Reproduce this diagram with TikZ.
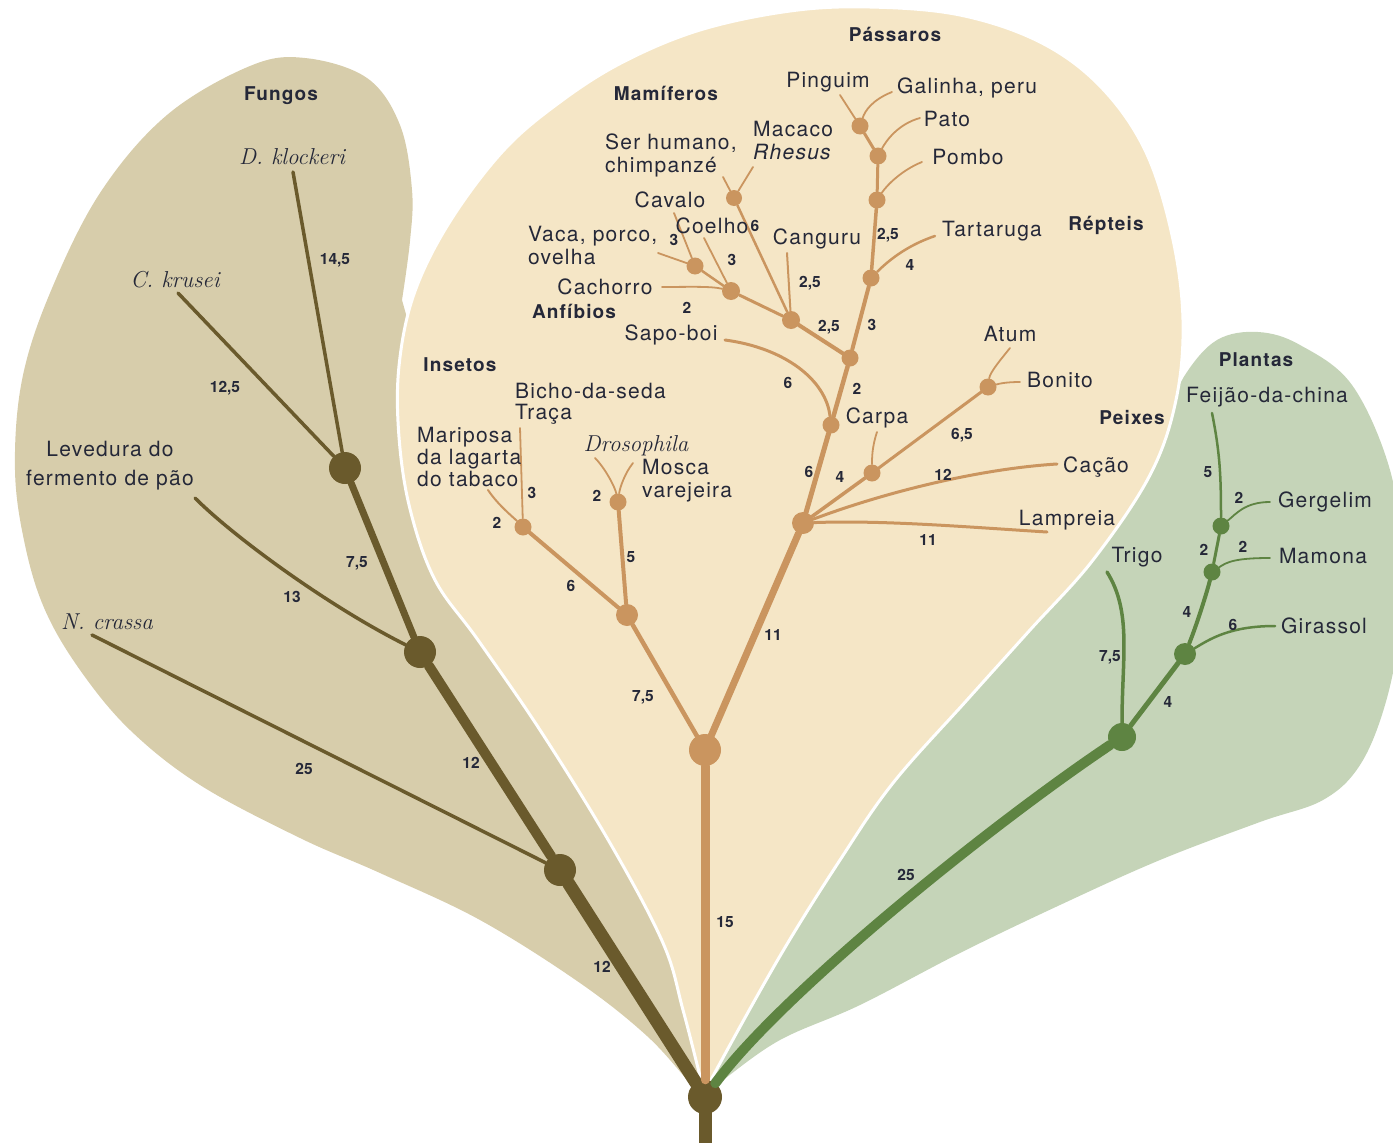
\documentclass[tikz,border=0pt]{standalone}
\usepackage{fontspec}
\newfontfamily\labfont[LetterSpace=6]{TeX Gyre Heros}
\newfontfamily\catfont[LetterSpace=6]{TeX Gyre Heros}
\newfontfamily\numfont{TeX Gyre Heros}
\definecolor{fungbg}{HTML}{D7CDAB}
\definecolor{fungbr}{HTML}{6A5A2C}
\definecolor{animbg}{HTML}{F5E6C6}
\definecolor{animbr}{HTML}{CA955F}
\definecolor{plantbg}{HTML}{C5D4B8}
\definecolor{plantbr}{HTML}{5E8442}
\definecolor{txt}{HTML}{252838}
\tikzset{
  lab/.style={font=\labfont\fontsize{21}{23}\selectfont, text=txt, inner sep=0pt},
  cat/.style={font=\catfont\bfseries\fontsize{19}{21}\selectfont, text=txt, inner sep=0pt},
  num/.style={font=\numfont\bfseries\fontsize{15.5}{17}\selectfont, text=txt, inner sep=0pt},
  spc/.style={font=\rmfamily\itshape\fontsize{23}{25}\selectfont, text=txt, inner sep=0pt},
  fdot/.style={circle, fill=fungbr, inner sep=0pt, minimum size=#1},
  adot/.style={circle, fill=animbr, inner sep=0pt, minimum size=#1},
  pdot/.style={circle, fill=plantbr, inner sep=0pt, minimum size=#1},
  fb/.style={draw=fungbr, line cap=round, line width=#1},
  ab/.style={draw=animbr, line cap=round, line width=#1},
  pb/.style={draw=plantbr, line cap=round, line width=#1},
}
\begin{document}
\begin{tikzpicture}[x=1pt,y=-1pt]
\useasboundingbox (0,0) rectangle (1393,1143);
% ---------- background blobs ----------
\fill[fungbg] (705,1097) -- plot[smooth, tension=0.6] coordinates {(705,1097) (690,1083) (647,1036) (580,983) (480,920) (380,873) (300,838) (200,785) (130,730) (80,670) (45,610) (25,545) (15,470) (22,380) (50,293) (100,193) (167,115) (250,66) (305,58) (367,78) (400,125) (412,190) (410,241) (402,300)} -- (430,400) -- (490,560) -- (610,760) -- (695,960) -- (716,1050) -- cycle;
\fill[plantbg] (712,1088) -- plot[smooth, tension=0.6] coordinates {(712,1088) (723,1080) (780,1040) (860,1005) (960,953) (1060,905) (1160,860) (1260,822) (1323,800) (1360,765) (1385,705) (1400,630) (1402,560) (1390,470) (1352,385) (1300,345) (1258,332) (1217,340) (1185,375) (1165,420)} -- (1130,480) -- (1075,560) -- (960,690) -- (880,790) -- (825,870) -- (745,990) -- (714,1065) -- cycle;
\filldraw[fill=animbg, draw=white, line width=3pt] (705,1094) -- plot[smooth, tension=0.6] coordinates {(705,1094) (700,1076) (683,1010) (663,943) (610,843) (540,730) (478,640) (435,580) (410,509) (399,437) (399,366) (414,294) (449,223) (503,151) (560,102) (623,62) (700,30) (790,11) (870,7) (960,15) (1040,42) (1100,86) (1145,150) (1172,235) (1183,320) (1176,400) (1150,475) (1093,560) (1030,630) (967,700) (893,783) (840,860) (780,956) (713,1076) (705,1094)} -- cycle;
% ---------- nodes (dots) ----------
\node[fdot=34pt] (root) at (705,1097) {};
\node[fdot=32pt] (f1) at (560,870) {};
\node[fdot=32pt] (f2) at (420,652) {};
\node[fdot=32pt] (f3) at (345,468) {};
\node[adot=32pt] (A) at (705,750) {};
\node[adot=22pt] (I) at (627,615) {};
\node[adot=17pt] (M) at (523,527) {};
\node[adot=17pt] (D) at (618,502) {};
\node[adot=22pt] (F) at (803,523) {};
\node[adot=17pt] (C2) at (872,473) {};
\node[adot=17pt] (B) at (988,387) {};
\node[adot=17pt] (CN) at (831,425) {};
\node[adot=17pt] (S) at (850,358) {};
\node[adot=18pt] (Mm) at (791,320) {};
\node[adot=18pt] (Ca) at (731,291) {};
\node[adot=17pt] (V) at (695,266) {};
\node[adot=16pt] (H) at (734,198) {};
\node[adot=17pt] (R) at (871,278) {};
\node[adot=17pt] (P1) at (877,200) {};
\node[adot=17pt] (P2) at (878,156) {};
\node[adot=17pt] (P3) at (860,126) {};
\node[pdot=28pt] (T) at (1122,737) {};
\node[pdot=22pt] (G1) at (1185,654) {};
\node[pdot=17pt] (G2) at (1212,572) {};
\node[pdot=17pt] (G3) at (1221,526) {};
% leaf ends
\coordinate (base) at (705,1150);
\coordinate (dkE) at (293,172);
\coordinate (ckE) at (178,293);
\coordinate (levE) at (195,498);
\coordinate (ncE) at (92,635);
\coordinate (pinE) at (840,95);
\coordinate (galE) at (892,92);
\coordinate (patE) at (920,118);
\coordinate (pomE) at (922,162);
\coordinate (tarE) at (935,236);
\coordinate (canE) at (787,253);
\coordinate (hsE) at (723,177);
\coordinate (rhE) at (753,167);
\coordinate (cavE) at (674,213);
\coordinate (vacE) at (658,253);
\coordinate (coeE) at (704,238);
\coordinate (cacE) at (662,287);
\coordinate (sapE) at (725,340);
\coordinate (atE) at (1010,348);
\coordinate (boE) at (1020,382);
\coordinate (carE) at (877,432);
\coordinate (caE) at (1057,464);
\coordinate (laE) at (1047,532);
\coordinate (marE) at (488,490);
\coordinate (traE) at (520,428);
\coordinate (droE) at (595,458);
\coordinate (mosE) at (633,463);
\coordinate (feE) at (1212,413);
\coordinate (geE) at (1270,502);
\coordinate (maE) at (1270,558);
\coordinate (giE) at (1275,626);
\coordinate (trE) at (1107,572);
% ---------- fungi branches ----------
\draw[fb=13pt, line cap=butt] (root.center) -- (base);
\draw[fb=13pt] (root) -- (f1);
\draw[fb=10pt] (f1) -- (f2);
\draw[fb=7pt] (f2) -- (f3);
\draw[fb=3.5pt] (dkE) -- (f3);
\draw[fb=3.5pt] (ckE) -- (f3);
\draw[fb=3.5pt] (levE) .. controls +(40,40) and +(-90,-45) .. (f2);
\draw[fb=3.5pt] (ncE) -- (f1);
% ---------- animal branches ----------
\draw[ab=9pt] (root) -- (A);
\draw[ab=7pt] (A) -- (F);
\draw[ab=4.5pt] (A) -- (I);
\draw[ab=4pt] (I) -- (M);
\draw[ab=4pt] (I) -- (D);
\draw[ab=2pt] (marE) .. controls +(10,15) and +(-10,-10) .. (M);
\draw[ab=1.8pt] (traE) -- (M);
\draw[ab=1.8pt] (droE) .. controls +(10,10) and +(-3,-15) .. (D);
\draw[ab=1.8pt] (mosE) .. controls +(-8,10) and +(2,-15) .. (D);
\draw[ab=5pt] (F) -- (CN);
\draw[ab=4.5pt] (CN) -- (S);
\draw[ab=3pt] (sapE) .. controls +(60,8) and +(-5,-45) .. (CN);
\draw[ab=4pt] (S) -- (R);
\draw[ab=3.5pt] (R) -- (P1);
\draw[ab=3pt] (P1) -- (P2);
\draw[ab=3pt] (P2) -- (P3);
\draw[ab=1.8pt] (pinE) -- (P3);
\draw[ab=1.8pt] (galE) .. controls +(-20,8) and +(5,-15) .. (P3);
\draw[ab=1.8pt] (patE) .. controls +(-22,6) and +(8,-15) .. (P2);
\draw[ab=1.8pt] (pomE) .. controls +(-20,8) and +(10,-15) .. (P1);
\draw[ab=2.5pt] (tarE) .. controls +(-30,10) and +(15,-15) .. (R);
\draw[ab=4pt] (S) -- (Mm);
\draw[ab=2pt] (canE) -- (Mm);
\draw[ab=2.5pt] (H) -- (Mm);
\draw[ab=1.8pt] (hsE) -- (H);
\draw[ab=1.8pt] (rhE) -- (H);
\draw[ab=3pt] (Ca) -- (Mm);
\draw[ab=2.5pt] (V) -- (Ca);
\draw[ab=1.8pt] (cavE) -- (V);
\draw[ab=1.8pt] (vacE) -- (V);
\draw[ab=1.8pt] (coeE) -- (Ca);
\draw[ab=1.8pt] (cacE) .. controls +(25,0) and +(-20,-5) .. (Ca);
\draw[ab=3.5pt] (F) -- (C2);
\draw[ab=1.8pt] (carE) .. controls +(-5,15) and +(0,-15) .. (C2);
\draw[ab=3pt] (C2) -- (B);
\draw[ab=1.8pt] (atE) .. controls +(-8,10) and +(2,-15) .. (B);
\draw[ab=1.8pt] (boE) .. controls +(-15,0) and +(10,-3) .. (B);
\draw[ab=3pt] (F) .. controls +(80,-30) and +(-80,5) .. (caE);
\draw[ab=3pt] (F) .. controls +(80,-3) and +(-80,-5) .. (laE);
% ---------- plant branches ----------
\draw[pb=10pt] (root) .. controls +(80,-107) and +(-127,85) .. (T);
\draw[pb=3.5pt] (trE) .. controls +(25,40) and +(0,-80) .. (T);
\draw[pb=5pt] (T) -- (G1);
\draw[pb=2.5pt] (giE) .. controls +(-45,0) and +(25,-15) .. (G1);
\draw[pb=4pt] (G1) .. controls +(12,-30) and +(-5,20) .. (G2);
\draw[pb=1.8pt] (maE) .. controls +(-35,0) and +(15,-10) .. (G2);
\draw[pb=3pt] (G2) -- (G3);
\draw[pb=1.8pt] (geE) .. controls +(-25,0) and +(15,-12) .. (G3);
\draw[pb=2.5pt] (feE) .. controls +(8,40) and +(0,-50) .. (G3);
% ---------- fungi labels ----------
\node[cat] (tFungos) at (281,96) {Fungos};
\node[spc] (tDk) at (292,157) {D. klockeri};
\node[num] (n145) at (335,260) {14,5};
\node[spc] (tCk) at (175,280) {C. krusei};
\node[num] (n125) at (225,388) {12,5};
\node[lab, align=center, font=\labfont\fontsize{21}{29}\selectfont] (tLev) at (110,466) {Levedura do\\fermento de pão};
\node[num] (n75f) at (357,563) {7,5};
\node[num] (n13) at (292,597) {13};
\node[spc] (tNc) at (107,622) {N. crassa};
\node[num] (n25f) at (304,769) {25};
\node[num] (n12a) at (471,763) {12};
\node[num] (n12b) at (602,967) {12};
% ---------- animal labels ----------
\node[cat] (tMam) at (666,93) {Mamíferos};
\node[lab, align=left, anchor=west] (tHs) at (605,155) {Ser humano,\\chimpanzé};
\node[lab, align=left, anchor=west] (tRh) at (753,141) {Macaco\\\textit{Rhesus}};
\node[lab] (tCav) at (670,200) {Cavalo};
\node[lab] (tCoe) at (712,226) {Coelho};
\node[num] (n6h) at (755,226) {6};
\node[lab, align=left, anchor=west] (tVac) at (528,246) {Vaca, porco,\\ovelha};
\node[num] (n3v) at (674,240) {3};
\node[num] (n3c) at (732,260) {3};
\node[lab] (tCan) at (817,239) {Canguru};
\node[num] (n25c) at (810,283) {2,5};
\node[lab] (tCac) at (605,287) {Cachorro};
\node[num] (n2c) at (687,308) {2};
\node[cat] (tAnf) at (574,311) {Anfíbios};
\node[lab] (tSap) at (671,335) {Sapo-boi};
\node[num] (n25m) at (829,327) {2,5};
\node[num] (n3r) at (872,325) {3};
\node[cat] (tPas) at (895,34) {Pássaros};
\node[lab] (tPin) at (828,82) {Pinguim};
\node[lab] (tGal) at (967,88) {Galinha, peru};
\node[lab] (tPat) at (947,119) {Pato};
\node[lab] (tPom) at (968,157) {Pombo};
\node[num] (n25p) at (888,235) {2,5};
\node[lab] (tTar) at (992,231) {Tartaruga};
\node[num] (n4t) at (910,265) {4};
\node[cat] (tRep) at (1106,225) {Répteis};
\node[lab] (tAtu) at (1010,334) {Atum};
\node[lab] (tBon) at (1060,380) {Bonito};
\node[cat] (tPei) at (1132,418) {Peixes};
\node[lab] (tCar) at (877,418) {Carpa};
\node[num] (n6s) at (788,383) {6};
\node[num] (n2s) at (857,389) {2};
\node[num] (n65) at (962,435) {6,5};
\node[num] (n12c) at (943,475) {12};
\node[lab] (tCa) at (1096,467) {Cação};
\node[num] (n6f) at (809,472) {6};
\node[num] (n4f) at (840,477) {4};
\node[lab] (tLam) at (1067,520) {Lampreia};
\node[num] (n11l) at (928,540) {11};
\node[num] (n11) at (773,635) {11};
\node[num] (n75a) at (643,697) {7,5};
\node[num] (n15) at (725,922) {15};
\node[cat] (tIns) at (460,365) {Insetos};
\node[lab, align=left, anchor=west, font=\labfont\fontsize{21}{21}\selectfont] (tBic) at (515,404) {Bicho-da-seda\\Traça};
\node[lab, align=left, anchor=west, font=\labfont\fontsize{21}{22}\selectfont] (tMar) at (417,457) {Mariposa\\da lagarta\\do tabaco};
\node[num] (n3i) at (532,493) {3};
\node[num] (n2i) at (497,523) {2};
\node[spc] (tDro) at (636,446) {Drosophila};
\node[lab, align=left, anchor=west] (tMos) at (642,481) {Mosca\\varejeira};
\node[num] (n2d) at (597,496) {2};
\node[num] (n5i) at (631,557) {5};
\node[num] (n6i) at (571,586) {6};
% ---------- plant labels ----------
\node[cat] (tPla) at (1256,360) {Plantas};
\node[lab] (tFei) at (1267,397) {Feijão-da-china};
\node[num] (n5p) at (1208,472) {5};
\node[num] (n2g) at (1239,498) {2};
\node[lab] (tGer) at (1325,502) {Gergelim};
\node[num] (n2a) at (1204,550) {2};
\node[num] (n2m) at (1243,547) {2};
\node[lab] (tMamo) at (1323,556) {Mamona};
\node[lab] (tTri) at (1137,557) {Trigo};
\node[num] (n4p) at (1187,612) {4};
\node[num] (n6p) at (1233,625) {6};
\node[lab] (tGir) at (1324,626) {Girassol};
\node[num] (n75p) at (1110,657) {7,5};
\node[num] (n4q) at (1168,702) {4};
\node[num] (n25p2) at (906,875) {25};
\end{tikzpicture}
\end{document}
